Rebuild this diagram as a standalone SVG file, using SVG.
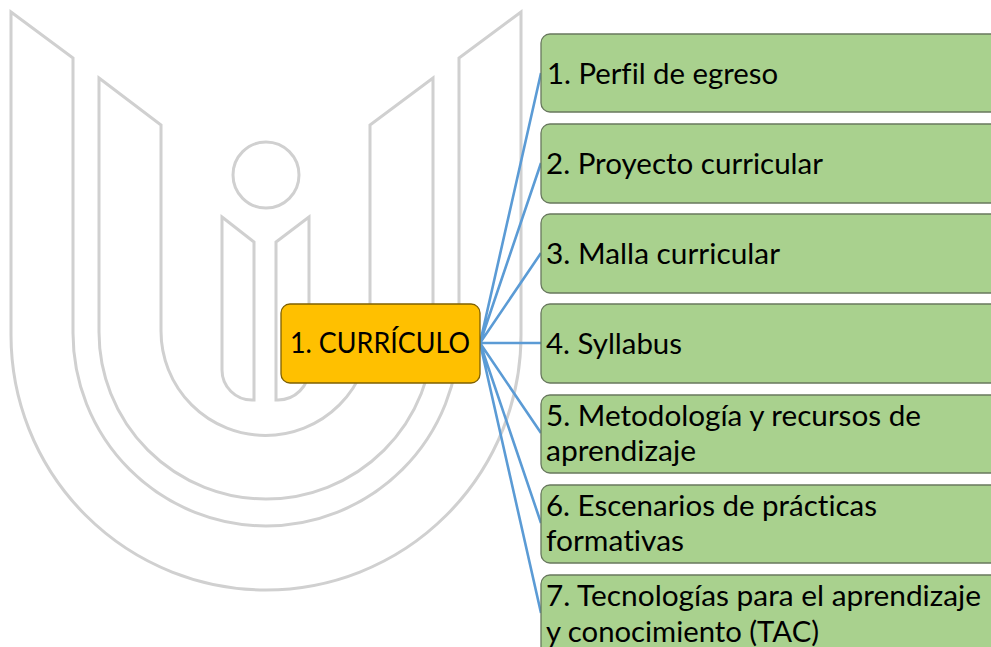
<svg xmlns="http://www.w3.org/2000/svg" width="991" height="647" viewBox="0 0 991 647">
<style>
.wm{fill:none;stroke:#d0d0d0;stroke-width:3;stroke-linejoin:miter}
.c{fill:none;stroke:#5b9bd5;stroke-width:2.6}
.n{fill:#a9d18e;stroke:#68785e;stroke-width:1.3}
.r{fill:#ffc000;stroke:#7f6000;stroke-width:1.3}
text{font-family:"Lato","Carlito","Open Sans",sans-serif;font-size:28.500px;fill:#000;font-variant-ligatures:none}
</style>
<rect width="991" height="647" fill="#fff"/>
<g id="watermark">
<path class="wm" d="M11 12L73 58V333A193 193 0 0 0 459 333V58L521 12V335A255 255 0 0 1 11 335Z"/>
<path class="wm" d="M99 78L161 125V331A104.500 104.500 0 0 0 370 331V125L433 78V332A167 167 0 0 1 99 332Z"/>
<circle class="wm" cx="266" cy="175" r="33"/>
<path class="wm" d="M222 217L254 242V400H252A30 30 0 0 1 222 370Z"/>
<path class="wm" d="M309 217L276 242V400H278A31 31 0 0 0 309 369Z"/>
</g>
<g id="connectors">
<path class="c" d="M480 343L541 73M480 343L541 163M480 343L541 253M480 343H541M480 343L541 433M480 343L541 523M480 343L541 613"/>
</g>
<g id="node-root"><rect class="r" x="281" y="304" width="199" height="79" rx="9"/><text x="290" y="353" textLength="180" lengthAdjust="spacingAndGlyphs">1. CURRÍCULO</text></g>
<g id="node-1"><rect class="n" x="541" y="34" width="465" height="78" rx="9"/><text x="547" y="84" textLength="231" lengthAdjust="spacingAndGlyphs">1. Perfil de egreso</text></g>
<g id="node-2"><rect class="n" x="541" y="124" width="465" height="79" rx="9"/><text x="546" y="174" textLength="277" lengthAdjust="spacingAndGlyphs">2. Proyecto curricular</text></g>
<g id="node-3"><rect class="n" x="541" y="214" width="465" height="79" rx="9"/><text x="546" y="264" textLength="234" lengthAdjust="spacingAndGlyphs">3. Malla curricular</text></g>
<g id="node-4"><rect class="n" x="541" y="304" width="465" height="79" rx="9"/><text x="546" y="354" textLength="136" lengthAdjust="spacingAndGlyphs">4. Syllabus</text></g>
<g id="node-5"><rect class="n" x="541" y="395" width="465" height="78" rx="9"/><text x="546" y="426" textLength="375" lengthAdjust="spacingAndGlyphs">5. Metodología y recursos de</text><text x="546" y="461" textLength="150" lengthAdjust="spacingAndGlyphs">aprendizaje</text></g>
<g id="node-6"><rect class="n" x="541" y="485" width="465" height="78" rx="9"/><text x="546" y="516" textLength="331" lengthAdjust="spacingAndGlyphs">6. Escenarios de prácticas</text><text x="546" y="551" textLength="138" lengthAdjust="spacingAndGlyphs">formativas</text></g>
<g id="node-7"><rect class="n" x="541" y="575" width="465" height="90" rx="9"/><text x="546" y="606" textLength="435" lengthAdjust="spacingAndGlyphs">7. Tecnologías para el aprendizaje</text><text x="546" y="642" textLength="273" lengthAdjust="spacingAndGlyphs">y conocimiento (TAC)</text></g>
</svg>
